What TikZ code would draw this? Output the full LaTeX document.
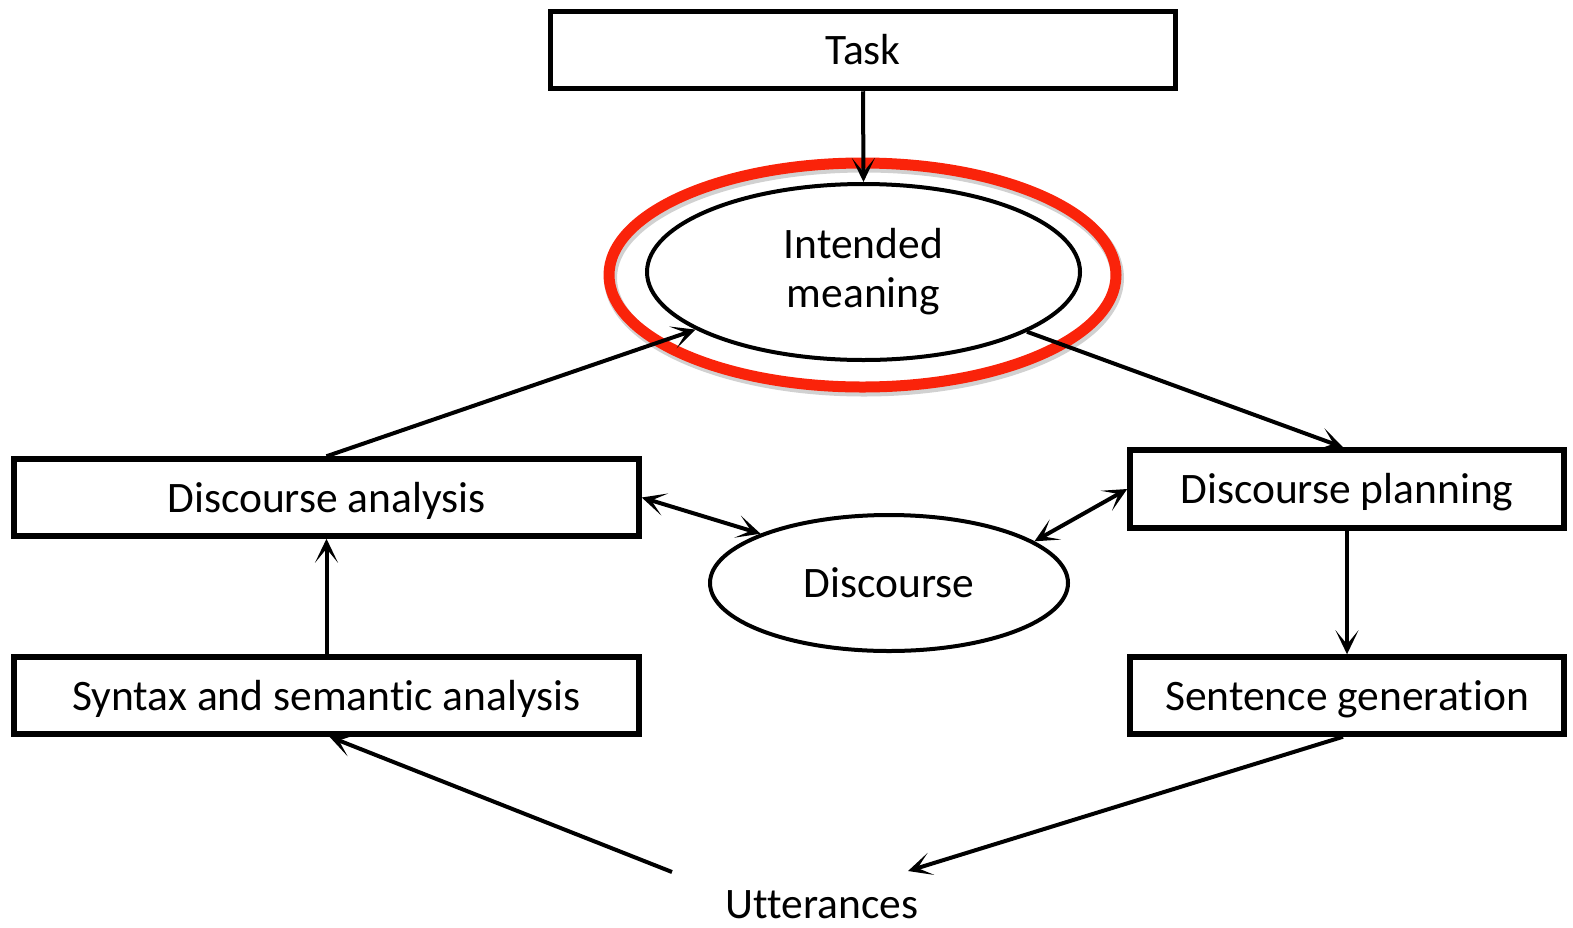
\documentclass[tikz,border=0pt]{standalone}
\usepackage{fontspec}
\setmainfont{Carlito}[Ligatures=NoCommon, RawFeature={-calt;-clig;-dlig}]
\usetikzlibrary{arrows.meta,shapes.geometric}

\definecolor{ringred}{RGB}{250,35,10}

\tikzset{
  label/.style={font=\fontsize{43.5}{49}\selectfont, align=center},
  oneline/.style={text height=36pt, text depth=7pt},
  box/.style={draw=black, line width=5.5pt, rectangle, inner sep=0pt,
    minimum width=625pt, minimum height=77pt, oneline},
  oval/.style={draw=black, line width=4pt, ellipse, inner sep=0pt},
  flow/.style={line width=4pt, -{Stealth[length=24pt,width=23pt,inset=14pt]}},
  twoway/.style={line width=4pt,
    {Stealth[length=24pt,width=23pt,inset=14pt]}-{Stealth[length=24pt,width=23pt,inset=14pt]}},
}

\begin{document}
\begin{tikzpicture}[x=1pt, y=-1pt, every node/.append style={label}]
  \useasboundingbox (0,0) rectangle (1573,927);

  % boxes
  \node[box] (task) at (863,50) {Task};
  \node[box] (da) at (326.5,497.5) {Discourse analysis};
  \node[box, minimum width=434pt, minimum height=78pt] (dp) at (1347,489) {Discourse planning};
  \node[box] (ss) at (326.5,695.5) {Syntax and semantic analysis};
  \node[box, minimum width=434pt] (sg) at (1347,695.5) {Sentence generation};

  % ellipses
  \node[oval, minimum width=433pt, minimum height=176pt] (im) at (863.5,272) {Intended\\meaning};
  \node[oval, oneline, minimum width=358pt, minimum height=136pt] (dis) at (889,583) {Discourse};

  % soft shadow under the highlight ring
  \node[ellipse, draw=black, draw opacity=0.18, line width=13pt, inner sep=0pt,
        minimum width=507pt, minimum height=224pt] at (864,278) {};
  % highlight ring around the intended meaning
  \node[ellipse, draw=ringred, line width=11pt, inner sep=0pt,
        minimum width=507pt, minimum height=224pt] (ring) at (862.5,275) {};

  % bottom label and the free ends of its connectors
  \node[anchor=base] (utt) at (822,918) {Utterances};
  \coordinate (uL) at (672,872);
  \coordinate (uR) at (908,871);

  % connectors
  \draw[flow] (task.south) -- (im.north);
  \draw[flow] (da.north) -- (im);
  \draw[flow] (im) -- ([xshift=-4pt]dp.north);
  \draw[twoway] (da.east) -- (dis.159);
  \draw[twoway] (dis.16) -- (dp.west);
  \draw[flow] (dp.south) -- (sg.north);
  \draw[flow] (ss.north) -- (da.south);
  \draw[flow] (uL) -- ([xshift=3pt]ss.south);
  \draw[flow] ([xshift=-4pt]sg.south) -- (uR);
\end{tikzpicture}
\end{document}
